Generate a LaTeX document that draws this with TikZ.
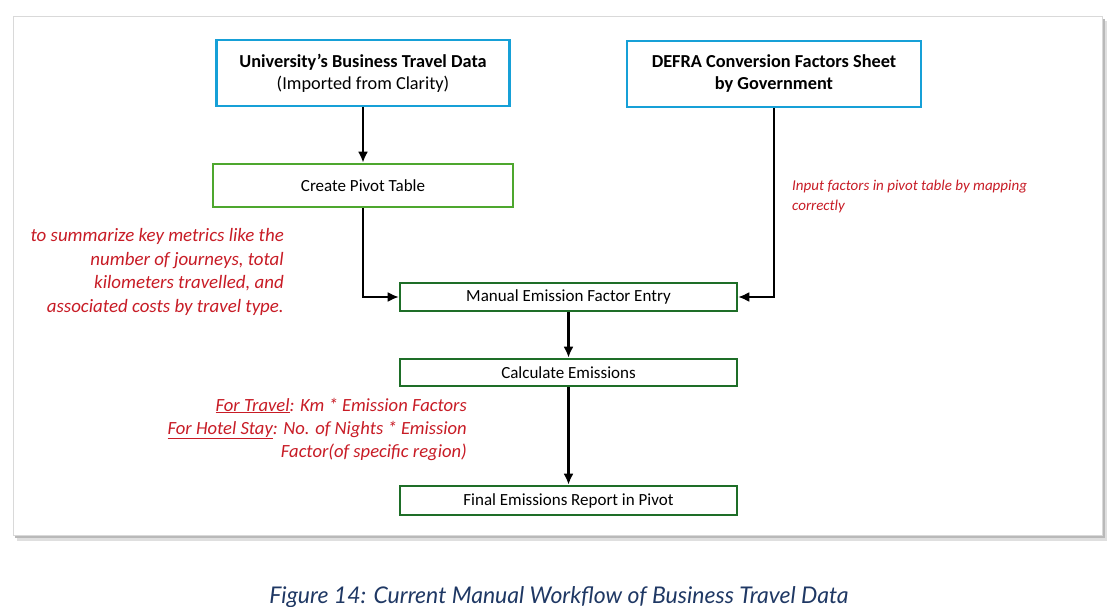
\documentclass[tikz,border=0pt]{standalone}
\usepackage{fontspec}
\setmainfont{Carlito}
\newfontfamily\capfont{Lato}
\usetikzlibrary{arrows.meta}
\definecolor{srcblue}{RGB}{22,160,215}
\definecolor{pivotgreen}{RGB}{78,167,46}
\definecolor{stepgreen}{RGB}{30,110,40}
\definecolor{notered}{RGB}{200,28,38}
\definecolor{capblue}{RGB}{31,56,100}
\begin{document}
\begin{tikzpicture}[x=1pt, y=-1pt, >={Latex[length=11pt,width=10pt]},
    srcbox/.style={draw=srcblue, line width=2.8pt, inner sep=0pt, align=center, font=\fontsize{18.3}{22}\selectfont},
    pivotbox/.style={draw=pivotgreen, line width=2.6pt, inner sep=0pt, font=\fontsize{17}{20}\selectfont},
    stepbox/.style={draw=stepgreen, line width=2.6pt, inner sep=0pt, minimum width=337pt, font=\fontsize{17}{20}\selectfont},
    note/.style={text=notered, font=\fontsize{18.9}{23.5}\selectfont\itshape, inner sep=0pt}]
\useasboundingbox (0,0) rectangle (1114,607);
% frame with shadow
\fill[gray!25] (17,21) rectangle (1107,541);
\fill[gray!55] (15,19) rectangle (1105,538);
\filldraw[fill=white, draw=gray!30, line width=1pt] (13,17) rectangle (1102,535);

% boxes
\node[srcbox, minimum width=293pt, minimum height=66pt] (uni) at (363,73)
    {\textbf{University's Business Travel Data}\\(Imported from Clarity)};
\node[srcbox, minimum width=294pt, minimum height=66pt] (defra) at (774,74)
    {\textbf{DEFRA Conversion Factors Sheet}\\\textbf{by Government}};
\node[pivotbox, minimum width=300pt, minimum height=43pt] (pivot) at (363,185.5) {Create Pivot Table};
\node[stepbox, minimum height=28pt] (manual) at (568.5,297) {Manual Emission Factor Entry};
\node[stepbox, minimum height=27pt] (calc) at (568.5,372.5) {Calculate Emissions};
\node[stepbox, minimum height=29pt] (final) at (568.5,500.5) {Final Emissions Report in Pivot};

% connectors
\draw[->, line width=2.5pt] (uni.south) -- (pivot.north);
\draw[->, line width=1.8pt] (pivot.south) |- (manual.west);
\draw[->, line width=1.8pt] (defra.south) |- (manual.east);
\draw[->, line width=2.2pt] (manual.south) -- (calc.north);
\draw[->, line width=2.2pt] (calc.south) -- (final.north);

% notes
\node[note, align=right, anchor=east] (sumnote) at (284,272)
    {to summarize key metrics like the\\number of journeys, total\\kilometers travelled, and\\associated costs by travel type.};
\node[note, align=left, anchor=west, font=\fontsize{15}{20}\selectfont\itshape] (mapnote) at (792,197)
    {Input factors in pivot table by mapping\\correctly};
\node[note, align=right, anchor=east, font=\fontsize{18.6}{23}\selectfont\itshape] (calcnote) at (467,429)
    {\underline{For Travel}: Km * Emission Factors\\\underline{For Hotel Stay}: No. of Nights * Emission\\Factor(of specific region)};

% caption
\node[text=capblue, font=\capfont\fontsize{23}{26}\selectfont\itshape] (caption) at (559,597)
    {Figure 14: Current Manual Workflow of Business Travel Data};
\end{tikzpicture}
\end{document}
